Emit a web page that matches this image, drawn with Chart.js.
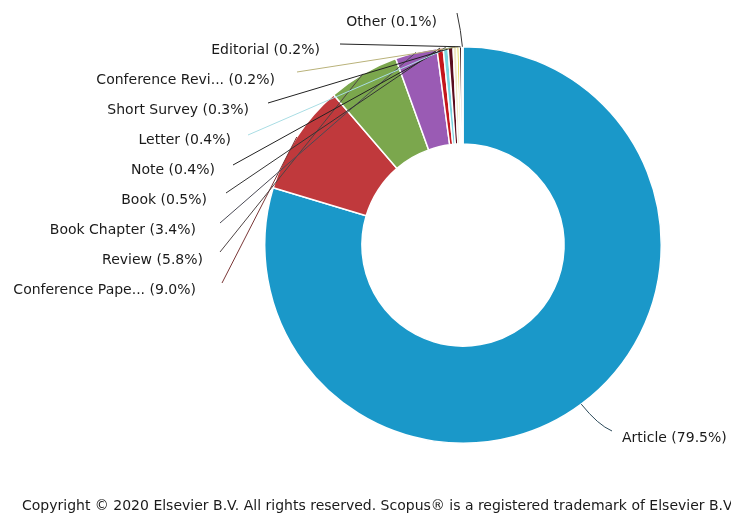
<!DOCTYPE html>
<html lang="en">
<head>
  <meta charset="UTF-8" />
  <title>Documents by type</title>
  <style>
    body{margin:0;background:#fff}
    canvas{display:block}
  </style>
</head>
<body>
  <canvas id="chart" width="731" height="515"></canvas>

  <script src="https://cdn.jsdelivr.net/npm/chart.js"></script>
  <script>
  /* ---------- data ---------- */
  const docTypes = ['Article','Conference Paper','Review','Book Chapter','Book','Note',
                    'Letter','Short Survey','Conference Review','Editorial','Other'];
  const docShares = [79.5, 9.0, 5.8, 3.4, 0.5, 0.4, 0.4, 0.3, 0.2, 0.2, 0.1];
  const sliceColors = ['#1a98c9','#c0393c','#7ba74d','#9a5bb4','#c4161c','#79d3df',
                       '#5a0d1e','#efe7c4','#ddcc2c','#3a1c1c','#f2e58a'];

  /* ---------- label layout: text anchor + start of leader line ---------- */
  const labelLayout = [
    {tx:622, ty:438, align:'left',  lx:612, ly:431, line:'#2c4a5a'},
    {tx:196, ty:290, align:'right', lx:222, ly:283, line:'#7a3636'},
    {tx:203, ty:260, align:'right', lx:220, ly:252, line:'#4e4444'},
    {tx:196, ty:230, align:'right', lx:220, ly:223, line:'#4a4a55'},
    {tx:207, ty:200, align:'right', lx:226, ly:193, line:'#333'},
    {tx:215, ty:170, align:'right', lx:233, ly:165, line:'#222'},
    {tx:231, ty:140, align:'right', lx:248, ly:135, line:'#a9dde4'},
    {tx:249, ty:110, align:'right', lx:268, ly:103, line:'#222'},
    {tx:275, ty:80,  align:'right', lx:297, ly:72,  line:'#b9b27a'},
    {tx:320, ty:50,  align:'right', lx:340, ly:44,  line:'#222'},
    {tx:437, ty:22,  align:'right', lx:457, ly:13,  line:'#333'}
  ];

  const shortName = s => s.length > 15 ? s.slice(0,15) + '...' : s;

  const leaderLabels = {
    id:'leaderLabels',
    afterDatasetsDraw(chart){
      const c = chart.ctx;
      const arcs = chart.getDatasetMeta(0).data;
      c.save();
      c.lineWidth = 1;
      arcs.forEach((arc, i) => {
        const L = labelLayout[i];
        const mid = (arc.startAngle + arc.endAngle) / 2;
        const ex = arc.x + arc.outerRadius * Math.cos(mid);
        const ey = arc.y + arc.outerRadius * Math.sin(mid);
        c.strokeStyle = L.line;
        c.beginPath();
        c.moveTo(L.lx, L.ly);
        if (i === 0) c.quadraticCurveTo(L.lx - 14, L.ly - 6, ex, ey);
        else if (i === docTypes.length - 1) c.quadraticCurveTo(L.lx + 4, L.ly + 18, ex, ey);
        else c.lineTo(ex, ey);
        c.stroke();

        c.font = '14px "DejaVu Sans"';
        c.fillStyle = '#1a1a1a';
        c.textAlign = L.align;
        c.textBaseline = 'middle';
        c.fillText(shortName(docTypes[i]) + ' (' + docShares[i].toFixed(1) + '%)', L.tx, L.ty);
      });

      c.font = '14px "DejaVu Sans"';
      c.textAlign = 'left';
      c.fillStyle = '#1a1a1a';
      c.fillText('Copyright \u00a9 2020 Elsevier B.V. All rights reserved. Scopus\u00ae is a registered trademark of Elsevier B.V.', 22, 506);
      c.restore();
    }
  };

  /* ---------- chart ---------- */
  new Chart(document.getElementById('chart'), {
    type:'doughnut',
    data:{
      labels:docTypes,
      datasets:[{
        data:docShares,
        backgroundColor:sliceColors,
        borderColor:'#fff',
        borderWidth:1.5
      }]
    },
    options:{
      responsive:false,
      animation:false,
      cutout:'51%',
      layout:{padding:{left:264, right:69, top:46, bottom:71}},
      plugins:{legend:{display:false}, tooltip:{enabled:false}}
    },
    plugins:[leaderLabels]
  });
  </script>
</body>
</html>
